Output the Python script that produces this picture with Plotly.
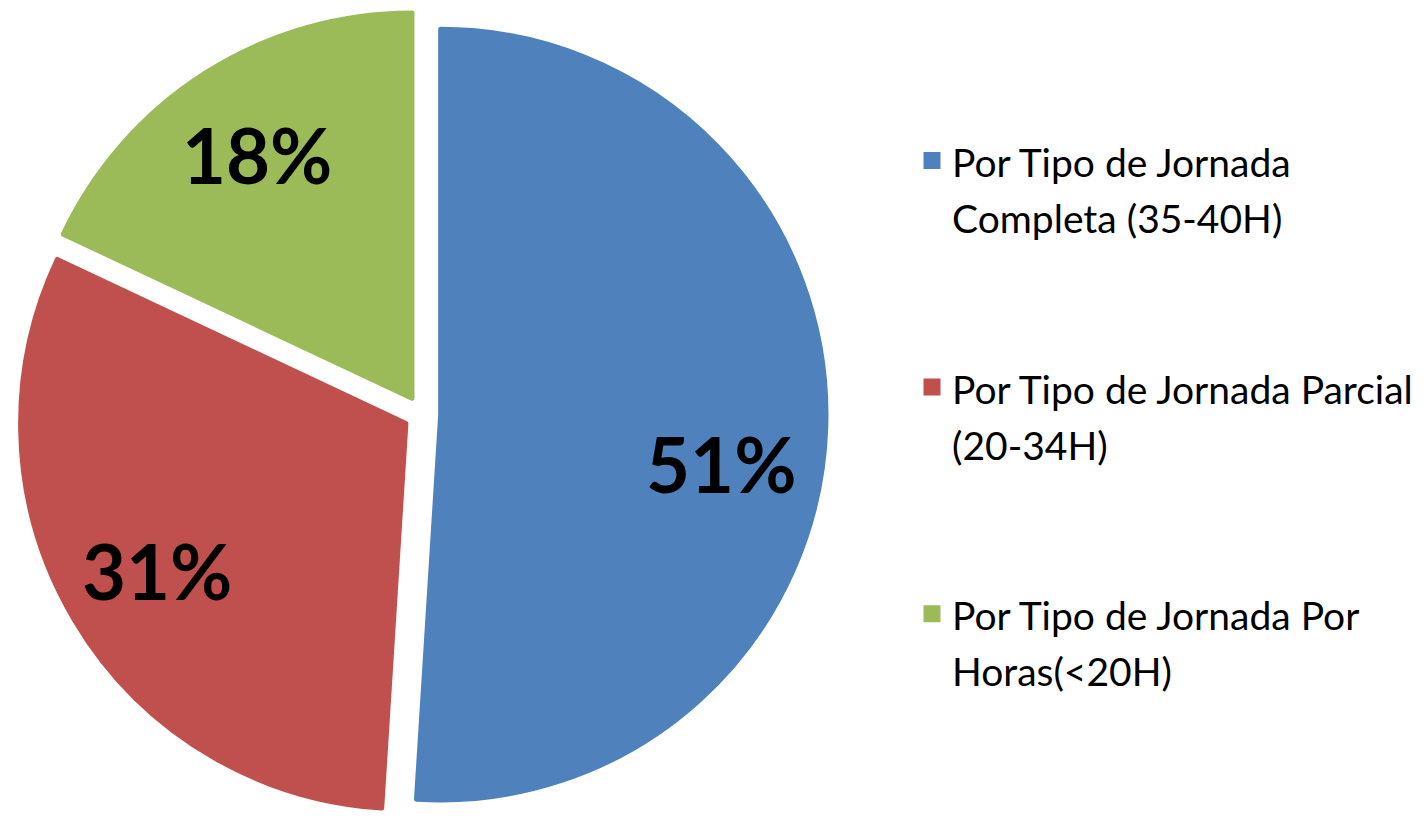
import plotly.graph_objects as go

# Data
category_lines = [
    ["Por Tipo de Jornada", "Completa (35-40H)"],
    ["Por Tipo de Jornada Parcial", "(20-34H)"],
    ["Por Tipo de Jornada Por", "Horas(<20H)"],
]
values = [51, 31, 18]
colors = ["#4F81BD", "#C0504D", "#9BBB59"]

LEGEND_TEXT_SIZE = 39
labels = [
    "<br>".join(f'<span style="font-size:{LEGEND_TEXT_SIZE}px">{ln}</span>' for ln in lines)
    + "<br> <br> "
    for lines in category_lines
]

PULL = 0.0485
DOMAIN = dict(x=[0, 0.5927], y=[0, 1])
LABEL_FONT = dict(family="Lato", size=76, color="black", weight="bold")
transparent = ["rgba(0,0,0,0)"] * len(values)

common = dict(
    labels=labels,
    values=values,
    sort=False,
    direction="clockwise",
    rotation=0,
    pull=[PULL] * len(values),
    domain=DOMAIN,
)

# visible slices
fig = go.Figure(
    go.Pie(
        **common,
        marker=dict(colors=colors, line=dict(color=colors, width=5)),
        textinfo="none",
        hoverinfo="label+percent",
    )
)

# percentage labels for the two smaller slices (outer ring)
fig.add_trace(
    go.Pie(
        **common,
        hole=0.5,
        marker=dict(colors=transparent, line=dict(width=0)),
        texttemplate=["", "%{percent:.0%}", "%{percent:.0%}"],
        textposition="inside",
        insidetextorientation="horizontal",
        insidetextfont=LABEL_FONT,
        showlegend=False,
        hoverinfo="skip",
    )
)

# percentage label for the large slice (sits a little lower, as in the original)
fig.add_trace(
    go.Pie(
        **common,
        hole=0.4,
        marker=dict(colors=transparent, line=dict(width=0)),
        texttemplate=["\u00a0<br>\u00a0\u00a0%{percent:.0%}", "", ""],
        textposition="inside",
        insidetextorientation="horizontal",
        insidetextfont=LABEL_FONT,
        showlegend=False,
        hoverinfo="skip",
    )
)

fig.update_layout(
    width=1424,
    height=818,
    margin=dict(l=0, r=0, t=10, b=0),
    paper_bgcolor="white",
    plot_bgcolor="white",
    showlegend=True,
    legend=dict(
        x=912 / 1424,
        xanchor="left",
        y=1 - 116 / 808,
        yanchor="top",
        valign="top",
        font=dict(family="Lato", size=43, color="black"),
        bgcolor="rgba(0,0,0,0)",
    ),
)

fig.write_html("out.html")
